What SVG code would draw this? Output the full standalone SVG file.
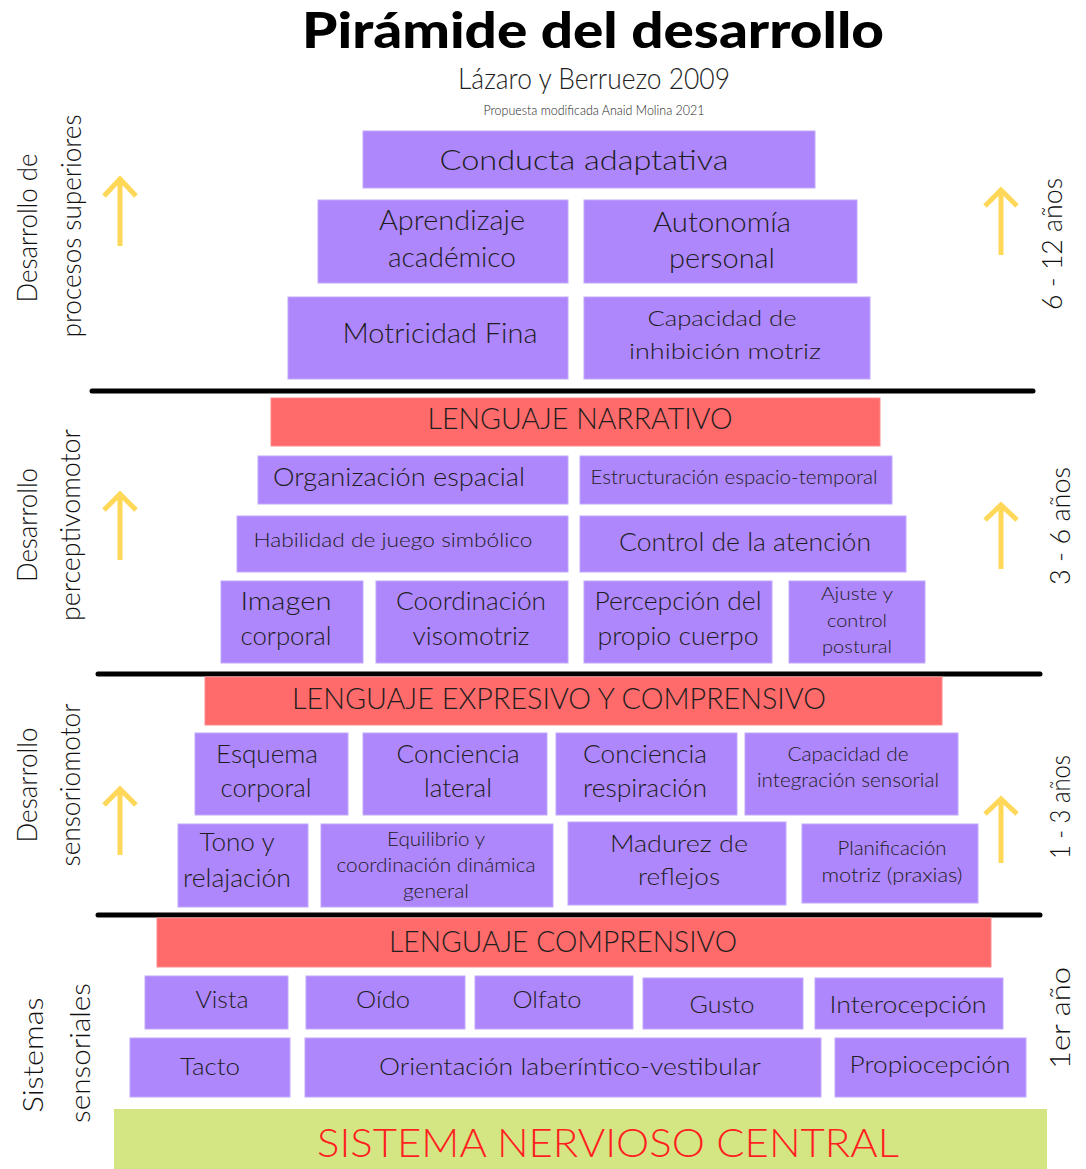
<svg xmlns="http://www.w3.org/2000/svg" width="1086" height="1169" viewBox="0 0 1086 1169">
<style>
  text { font-family: Lato, "Open Sans", "Liberation Sans", sans-serif; fill: #1e1e1e; text-anchor: middle; font-weight: 300; }
  .box { fill: #ae87fd; stroke: #c2a8fd; stroke-width: 1; }
  .red { fill: #ff6a6a; stroke: #ff8a8a; stroke-width: 1; }
  .snc { fill: #d4e683; }
  .sep { stroke: #000; stroke-width: 5; stroke-linecap: round; }
  .arr { fill: none; stroke: #ffd85a; stroke-width: 5; }
  .side { font-weight: 300; font-size: 28px; fill: #111; }
  .title { font-weight: 900; font-size: 50px; fill: #000; }
  .sub { font-weight: 300; }
</style>

<g id="header">
  <text class="title" x="593" y="48" textLength="582" lengthAdjust="spacingAndGlyphs">Pirámide del desarrollo</text>
  <text class="sub" x="594" y="89" font-size="30" textLength="272" lengthAdjust="spacingAndGlyphs">Lázaro y Berruezo 2009</text>
  <text class="sub" x="594" y="115" font-size="13" textLength="221" lengthAdjust="spacingAndGlyphs">Propuesta modificada Anaid Molina 2021</text>
</g>

<g id="separators">
  <line class="sep" x1="92" y1="391" x2="1033" y2="391"/>
  <line class="sep" x1="98" y1="674" x2="1040" y2="674"/>
  <line class="sep" x1="98" y1="915" x2="1040" y2="915"/>
</g>

<g id="connectors">
  <path class="arr" d="M120 246 V178 M104 196 L120 179 L136 196"/>
  <path class="arr" d="M120 560 V493 M104 510 L120 494 L136 510"/>
  <path class="arr" d="M120 855 V788 M104 805 L120 789 L136 805"/>
  <path class="arr" d="M1001 255 V189 M985 206 L1001 190 L1017 206"/>
  <path class="arr" d="M1001 569 V504 M985 520 L1001 505 L1017 520"/>
  <path class="arr" d="M1001 863 V798 M985 814 L1001 799 L1017 814"/>
</g>

<g id="side-labels">
  <text class="side" transform="translate(37,228) rotate(-90)" textLength="149" lengthAdjust="spacingAndGlyphs">Desarrollo de</text>
  <text class="side" transform="translate(81,226) rotate(-90)" textLength="223" lengthAdjust="spacingAndGlyphs">procesos superiores</text>
  <text class="side" transform="translate(37,525) rotate(-90)" textLength="114" lengthAdjust="spacingAndGlyphs">Desarrollo</text>
  <text class="side" transform="translate(80,525) rotate(-90)" textLength="192" lengthAdjust="spacingAndGlyphs">perceptivomotor</text>
  <text class="side" transform="translate(37,785) rotate(-90)" textLength="115" lengthAdjust="spacingAndGlyphs">Desarrollo</text>
  <text class="side" transform="translate(80,785) rotate(-90)" textLength="163" lengthAdjust="spacingAndGlyphs">sensoriomotor</text>
  <text class="side" transform="translate(43,1055) rotate(-90)" textLength="115" lengthAdjust="spacingAndGlyphs">Sistemas</text>
  <text class="side" transform="translate(90,1053) rotate(-90)" textLength="140" lengthAdjust="spacingAndGlyphs">sensoriales</text>
  <text class="side" transform="translate(1062,244) rotate(-90)" textLength="132" lengthAdjust="spacingAndGlyphs">6 - 12 años</text>
  <text class="side" transform="translate(1070,526) rotate(-90)" textLength="118" lengthAdjust="spacingAndGlyphs">3 - 6 años</text>
  <text class="side" transform="translate(1070,807) rotate(-90)" textLength="104" lengthAdjust="spacingAndGlyphs">1 - 3 años</text>
  <text class="side" transform="translate(1070,1018) rotate(-90)" textLength="102" lengthAdjust="spacingAndGlyphs">1er año</text>
</g>

<!-- Section 1 -->
<g id="conducta-adaptativa"><rect class="box" x="363" y="131" width="452" height="57"/>
  <text x="584" y="170" font-size="28" textLength="289" lengthAdjust="spacingAndGlyphs">Conducta adaptativa</text></g>
<g id="aprendizaje"><rect class="box" x="318" y="200" width="250" height="83"/>
  <text x="452" y="230" font-size="27" textLength="146" lengthAdjust="spacingAndGlyphs">Aprendizaje</text>
  <text x="452" y="267" font-size="27" textLength="128" lengthAdjust="spacingAndGlyphs">académico</text></g>
<g id="autonomia"><rect class="box" x="584" y="200" width="273" height="83"/>
  <text x="722" y="232" font-size="27" textLength="138" lengthAdjust="spacingAndGlyphs">Autonomía</text>
  <text x="722" y="268" font-size="27" textLength="106" lengthAdjust="spacingAndGlyphs">personal</text></g>
<g id="motricidad-fina"><rect class="box" x="288" y="297" width="280" height="82"/>
  <text x="440" y="343" font-size="27" textLength="195" lengthAdjust="spacingAndGlyphs">Motricidad Fina</text></g>
<g id="inhibicion"><rect class="box" x="584" y="297" width="286" height="82"/>
  <text x="722" y="326" font-size="22" textLength="149" lengthAdjust="spacingAndGlyphs">Capacidad de</text>
  <text x="725" y="359" font-size="22" textLength="192" lengthAdjust="spacingAndGlyphs">inhibición motriz</text></g>

<!-- Section 2 -->
<g id="lenguaje-narrativo"><rect class="red" x="271" y="398" width="609" height="48"/>
  <text x="580" y="429" font-size="29" textLength="305" lengthAdjust="spacingAndGlyphs">LENGUAJE NARRATIVO</text></g>
<g id="organizacion"><rect class="box" x="258" y="456" width="310" height="48"/>
  <text x="399" y="486" font-size="26" textLength="252" lengthAdjust="spacingAndGlyphs">Organización espacial</text></g>
<g id="estructuracion"><rect class="box" x="580" y="456" width="312" height="48"/>
  <text x="734" y="484" font-size="19" textLength="287" lengthAdjust="spacingAndGlyphs">Estructuración espacio-temporal</text></g>
<g id="juego-simbolico"><rect class="box" x="237" y="516" width="331" height="56"/>
  <text x="393" y="547" font-size="20" textLength="279" lengthAdjust="spacingAndGlyphs">Habilidad de juego simbólico</text></g>
<g id="atencion"><rect class="box" x="580" y="516" width="326" height="56"/>
  <text x="745" y="551" font-size="26" textLength="252" lengthAdjust="spacingAndGlyphs">Control de la atención</text></g>
<g id="imagen-corporal"><rect class="box" x="221" y="581" width="142" height="82"/>
  <text x="286" y="610" font-size="25" textLength="91" lengthAdjust="spacingAndGlyphs">Imagen</text>
  <text x="286" y="645" font-size="25" textLength="91" lengthAdjust="spacingAndGlyphs">corporal</text></g>
<g id="visomotriz"><rect class="box" x="376" y="581" width="192" height="82"/>
  <text x="471" y="610" font-size="25" textLength="150" lengthAdjust="spacingAndGlyphs">Coordinación</text>
  <text x="471" y="645" font-size="25" textLength="117" lengthAdjust="spacingAndGlyphs">visomotriz</text></g>
<g id="percepcion-cuerpo"><rect class="box" x="584" y="581" width="188" height="82"/>
  <text x="678" y="610" font-size="25" textLength="167" lengthAdjust="spacingAndGlyphs">Percepción del</text>
  <text x="678" y="645" font-size="25" textLength="161" lengthAdjust="spacingAndGlyphs">propio cuerpo</text></g>
<g id="ajuste-postural"><rect class="box" x="789" y="581" width="136" height="82"/>
  <text x="857" y="600" font-size="18" textLength="72" lengthAdjust="spacingAndGlyphs">Ajuste y</text>
  <text x="857" y="627" font-size="18" textLength="60" lengthAdjust="spacingAndGlyphs">control</text>
  <text x="857" y="653" font-size="18" textLength="70" lengthAdjust="spacingAndGlyphs">postural</text></g>

<!-- Section 3 -->
<g id="lenguaje-expresivo"><rect class="red" x="205" y="677" width="737" height="48"/>
  <text x="559" y="709" font-size="29" textLength="534" lengthAdjust="spacingAndGlyphs">LENGUAJE EXPRESIVO Y COMPRENSIVO</text></g>
<g id="esquema-corporal"><rect class="box" x="195" y="733" width="153" height="82"/>
  <text x="267" y="763" font-size="25" textLength="102" lengthAdjust="spacingAndGlyphs">Esquema</text>
  <text x="266" y="797" font-size="25" textLength="91" lengthAdjust="spacingAndGlyphs">corporal</text></g>
<g id="conciencia-lateral"><rect class="box" x="363" y="733" width="184" height="82"/>
  <text x="458" y="763" font-size="25" textLength="123" lengthAdjust="spacingAndGlyphs">Conciencia</text>
  <text x="458" y="797" font-size="25" textLength="68" lengthAdjust="spacingAndGlyphs">lateral</text></g>
<g id="conciencia-respiracion"><rect class="box" x="556" y="733" width="181" height="82"/>
  <text x="645" y="763" font-size="25" textLength="124" lengthAdjust="spacingAndGlyphs">Conciencia</text>
  <text x="645" y="797" font-size="25" textLength="124" lengthAdjust="spacingAndGlyphs">respiración</text></g>
<g id="integracion-sensorial"><rect class="box" x="745" y="733" width="213" height="82"/>
  <text x="848" y="761" font-size="19" textLength="121" lengthAdjust="spacingAndGlyphs">Capacidad de</text>
  <text x="848" y="787" font-size="19" textLength="182" lengthAdjust="spacingAndGlyphs">integración sensorial</text></g>
<g id="tono-relajacion"><rect class="box" x="178" y="824" width="130" height="83"/>
  <text x="237" y="851" font-size="25" textLength="75" lengthAdjust="spacingAndGlyphs">Tono y</text>
  <text x="237" y="887" font-size="25" textLength="108" lengthAdjust="spacingAndGlyphs">relajación</text></g>
<g id="equilibrio"><rect class="box" x="321" y="824" width="232" height="83"/>
  <text x="436" y="846" font-size="19" textLength="98" lengthAdjust="spacingAndGlyphs">Equilibrio y</text>
  <text x="436" y="872" font-size="19" textLength="199" lengthAdjust="spacingAndGlyphs">coordinación dinámica</text>
  <text x="436" y="898" font-size="19" textLength="66" lengthAdjust="spacingAndGlyphs">general</text></g>
<g id="madurez-reflejos"><rect class="box" x="568" y="822" width="218" height="83"/>
  <text x="679" y="852" font-size="24" textLength="138" lengthAdjust="spacingAndGlyphs">Madurez de</text>
  <text x="679" y="885" font-size="24" textLength="82" lengthAdjust="spacingAndGlyphs">reflejos</text></g>
<g id="planificacion-motriz"><rect class="box" x="802" y="824" width="176" height="79"/>
  <text x="892" y="855" font-size="19" textLength="109" lengthAdjust="spacingAndGlyphs">Planificación</text>
  <text x="892" y="882" font-size="19" textLength="141" lengthAdjust="spacingAndGlyphs">motriz (praxias)</text></g>

<!-- Section 4 -->
<g id="lenguaje-comprensivo"><rect class="red" x="157" y="918" width="834" height="49"/>
  <text x="563" y="952" font-size="29" textLength="348" lengthAdjust="spacingAndGlyphs">LENGUAJE COMPRENSIVO</text></g>
<g id="vista"><rect class="box" x="145" y="976" width="143" height="53"/>
  <text x="222" y="1008" font-size="24" textLength="53" lengthAdjust="spacingAndGlyphs">Vista</text></g>
<g id="oido"><rect class="box" x="306" y="976" width="159" height="53"/>
  <text x="383" y="1008" font-size="24" textLength="54" lengthAdjust="spacingAndGlyphs">Oído</text></g>
<g id="olfato"><rect class="box" x="475" y="976" width="158" height="53"/>
  <text x="547" y="1008" font-size="24" textLength="69" lengthAdjust="spacingAndGlyphs">Olfato</text></g>
<g id="gusto"><rect class="box" x="643" y="978" width="160" height="51"/>
  <text x="722" y="1013" font-size="24" textLength="65" lengthAdjust="spacingAndGlyphs">Gusto</text></g>
<g id="interocepcion"><rect class="box" x="815" y="978" width="188" height="51"/>
  <text x="908" y="1013" font-size="24" textLength="157" lengthAdjust="spacingAndGlyphs">Interocepción</text></g>
<g id="tacto"><rect class="box" x="130" y="1038" width="160" height="59"/>
  <text x="210" y="1075" font-size="24" textLength="60" lengthAdjust="spacingAndGlyphs">Tacto</text></g>
<g id="orientacion-vestibular"><rect class="box" x="305" y="1038" width="516" height="59"/>
  <text x="570" y="1075" font-size="24" textLength="382" lengthAdjust="spacingAndGlyphs">Orientación laberíntico-vestibular</text></g>
<g id="propiocepcion"><rect class="box" x="835" y="1038" width="191" height="59"/>
  <text x="930" y="1073" font-size="24" textLength="161" lengthAdjust="spacingAndGlyphs">Propiocepción</text></g>
<g id="sistema-nervioso-central"><rect class="snc" x="114" y="1109" width="933" height="60"/>
  <text x="608" y="1157" font-size="40" style="fill:#ff1f1f" textLength="582" lengthAdjust="spacingAndGlyphs">SISTEMA NERVIOSO CENTRAL</text></g>
</svg>
